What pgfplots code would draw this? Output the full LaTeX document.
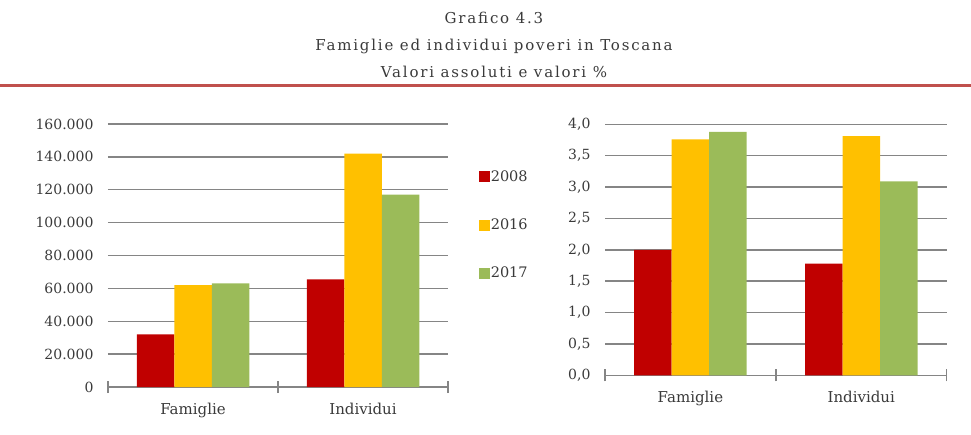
\documentclass[border=0pt]{standalone}
\usepackage{fontspec}
\setmainfont{DejaVu Serif}
\newfontfamily\titlefont[LetterSpace=12]{DejaVu Serif}
\usepackage{pgfplots}
\pgfplotsset{compat=1.18}
\definecolor{cA}{HTML}{C00000}
\definecolor{cB}{HTML}{FFC000}
\definecolor{cC}{HTML}{9BBB59}
\definecolor{gridc}{HTML}{858585}
\definecolor{txt}{HTML}{3A3A3A}
\definecolor{rline}{HTML}{C0504D}
\pgfplotsset{
 common/.style={
  scale only axis, ybar=0pt, bar width=37.5pt,
  xmin=-0.5, xmax=1.5, xtick={0,1}, xticklabels={Famiglie,Individui},
  minor xtick={-0.5,0.5,1.5},
  major tick length=0pt, minor tick length=12pt, tick align=center,
  axis x line*=bottom, axis y line*=left,
  y axis line style={draw=none},
  x axis line style={gridc, line width=1.4pt},
  minor tick style={gridc, line width=1.4pt},
  ymajorgrids, major grid style={gridc, line width=1.4pt},
  ymin=0, enlarge y limits=false,
  tick label style={font=\fontsize{14}{16}\selectfont, text=txt},
  yticklabel style={xshift=-11pt},
  xticklabel style={yshift=-12.5pt, font=\fontsize{15}{17}\selectfont},
  /pgf/number format/assume math mode=true,
  scaled y ticks=false,
 },
}
\begin{document}
\begin{tikzpicture}
\useasboundingbox (0pt,0pt) rectangle (971pt,434pt);
\node[text=txt, font=\titlefont\fontsize{15}{17}\selectfont] at (494pt,416pt) {Grafico 4.3};
\node[text=txt, font=\titlefont\fontsize{15}{17}\selectfont] at (494pt,388pt) {Famiglie ed individui poveri in Toscana};
\node[text=txt, font=\titlefont\fontsize{15}{17}\selectfont] at (494pt,362pt) {Valori assoluti e valori \%};
\draw[rline, line width=3pt] (0pt,348pt) -- (971pt,348pt);

\begin{axis}[common,
  at={(108pt,47pt)}, anchor=south west,
  width=340pt, height=263pt,
  ymax=160000, ytick={0,20000,40000,60000,80000,100000,120000,140000,160000},
  yticklabel style={/pgf/number format/.cd, fixed, precision=0, 1000 sep={.}},
  legend style={at={(1.09,0.827)}, anchor=north west, draw=none, fill=none,
    font=\fontsize{14.5}{16}\selectfont, text=txt,
    row sep=34pt, inner sep=0pt,
    nodes={inner sep=1pt}},
  legend image code/.code={\fill[#1] (0pt,-5.5pt) rectangle (11pt,5.5pt);},
]
\addplot[fill=cA, draw=none] coordinates {(0,32000) (1,65500)};
\addplot[fill=cB, draw=none] coordinates {(0,62000) (1,142000)};
\addplot[fill=cC, draw=none] coordinates {(0,63000) (1,117000)};
\legend{2008,2016,2017}
\end{axis}

\begin{axis}[common,
  at={(605pt,58.7pt)}, anchor=south west,
  width=341.7pt, height=251pt,
  ymax=4, ytick={0,0.5,1,1.5,2,2.5,3,3.5,4},
  yticklabel style={/pgf/number format/.cd, fixed, fixed zerofill, precision=1, use comma},
]
\addplot[fill=cA, draw=none] coordinates {(0,2.0) (1,1.78)};
\addplot[fill=cB, draw=none] coordinates {(0,3.76) (1,3.81)};
\addplot[fill=cC, draw=none] coordinates {(0,3.88) (1,3.09)};
\end{axis}
\end{tikzpicture}
\end{document}
